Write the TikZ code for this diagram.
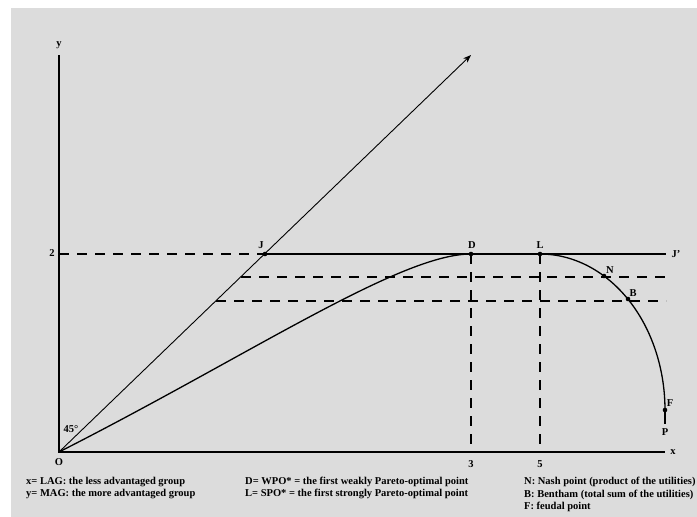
\documentclass[tikz,border=0pt]{standalone}
\usepackage{fontspec}
\setmainfont{Liberation Serif}
\usetikzlibrary{arrows.meta}
\definecolor{bg}{RGB}{220,220,220}
\begin{document}
\begin{tikzpicture}[x=1pt,y=-1pt,
  dot/.style={circle,fill=black,inner sep=0pt,minimum size=4.6pt},
  lbl/.style={font=\bfseries\fontsize{10.5}{12}\selectfont,inner sep=0pt},
  dsh/.style={line width=1.2pt,dash pattern=on 10pt off 8pt},
  axisline/.style={line width=1.7pt},
  thinline/.style={line width=0.9pt},
  midline/.style={line width=1.3pt}]
\useasboundingbox (0,0) rectangle (697,517);
\fill[white] (0,0) rectangle (697,517);
\fill[bg] (11,8) rectangle (697,517);
% key points
\coordinate (O) at (59,452);
\coordinate (ytop) at (59,55);
\coordinate (xend) at (665,452);
\coordinate (tip) at (471,55);
\coordinate (y2) at (59,254);
\coordinate (Jp) at (666,254);
\coordinate (x3) at (471,452);
\coordinate (x5) at (540,452);
\coordinate (hN) at (241,277);
\coordinate (hNe) at (666,277);
\coordinate (hB) at (216,301);
\coordinate (hBe) at (666,301);
\coordinate (Pend) at (665,424);
% axes
\draw[axisline] (ytop) -- (O) -- (xend);
% diagonal
\draw[thinline,-{Stealth[length=8pt,width=6pt]}] (O) -- (tip);
% dashed lines
\draw[dsh] (y2) -- (265,254);
\draw[dsh] (hN) -- (hNe);
\draw[dsh] (hB) -- (hBe);
\draw[dsh] (471,254) -- (x3);
\draw[dsh] (540,254) -- (x5);
% curves
\draw[midline] (O) .. controls (250,355) and (400,254) .. (471,254);
\draw[midline] plot[domain=0:90,samples=60,smooth] ({540+125*sin(\x)},{410-156*cos(\x)});
\draw[midline] (665,410) -- (Pend);
% J-J' line
\draw[midline] (265,254) -- (Jp);
% points
\node[dot] (J) at (265,254) {};
\node[dot] (D) at (471,254) {};
\node[dot] (L) at (540,254) {};
\node[dot] (N) at (604,276) {};
\node[dot] (B) at (628,299) {};
\node[dot] (F) at (665,410) {};
% point labels
\node[lbl] (Jl) at (261,245) {J};
\node[lbl] (Dl) at (472,245) {D};
\node[lbl] (Ll) at (540,245) {L};
\node[lbl] (Nl) at (610,270) {N};
\node[lbl] (Bl) at (633,293) {B};
\node[lbl] (Fl) at (670,403) {F};
\node[lbl] (Pl) at (665,432) {P};
\node[lbl] (Jpl) at (676,254) {J'};
% axis labels
\node[lbl] (yl) at (59,45) {y};
\node[lbl] (xl) at (673,452) {x};
\node[lbl] (Ol) at (59,462) {O};
\node[lbl] (two) at (52,253) {2};
\node[lbl] (three) at (471,464) {3};
\node[lbl] (five) at (540,464) {5};
\node[lbl] (ang) at (71,429) {45°};
% legend
\node[lbl,anchor=west] (t1) at (26,482) {x= LAG: the less advantaged group};
\node[lbl,anchor=west] (t2) at (26,494) {y= MAG: the more advantaged group};
\node[lbl,anchor=west] (t3) at (245,482) {D= WPO* = the first weakly Pareto-optimal point};
\node[lbl,anchor=west] (t4) at (245,494) {L= SPO* = the first strongly Pareto-optimal point};
\node[lbl,anchor=west] (t5) at (524,482) {N: Nash point (product of the utilities)};
\node[lbl,anchor=west] (t6) at (524,495) {B: Bentham (total sum of the utilities)};
\node[lbl,anchor=west] (t7) at (524,507) {F: feudal point};
\end{tikzpicture}
\end{document}
